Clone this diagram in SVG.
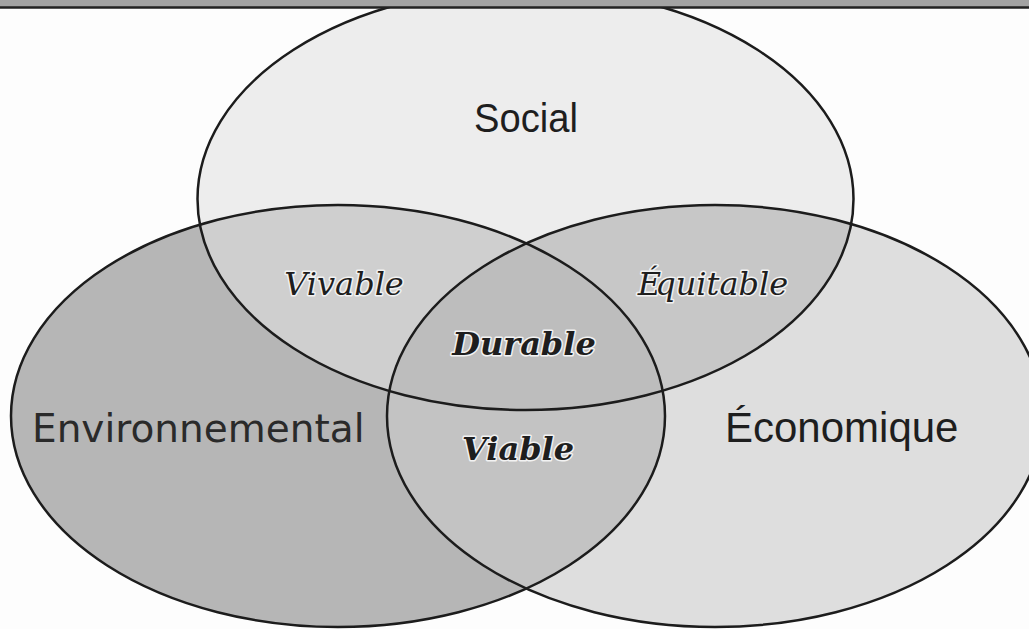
<svg xmlns="http://www.w3.org/2000/svg" width="1029" height="629" viewBox="0 0 1029 629">
<style>
.outline{fill:none;stroke:#1c1c1c;stroke-width:2.5}
.lbl{font-family:"Liberation Sans",Arial,sans-serif;fill:#1e1e1e}
.lbl2{font-family:"DejaVu Sans",Verdana,sans-serif;fill:#2a2a2a}
.it{font-family:"DejaVu Serif","Liberation Serif",serif;font-style:italic;font-size:32px;fill:#1e1e1e;text-anchor:middle;stroke:#f2f2f2;stroke-width:3;paint-order:stroke;stroke-linejoin:round}
.bi{font-weight:bold}
</style>
<defs>
<ellipse id="eS" cx="525.5" cy="199" rx="328" ry="211"/>
<ellipse id="eE" cx="338" cy="416" rx="327" ry="211"/>
<ellipse id="eC" cx="715" cy="416" rx="328" ry="211"/>
<clipPath id="cS"><use href="#eS"/></clipPath>
<clipPath id="cE"><use href="#eE"/></clipPath>
</defs>
<rect width="1029" height="629" fill="#fdfdfd"/>
<g id="fills">
<use href="#eS" fill="#ededed"/>
<use href="#eE" fill="#b6b6b6"/>
<use href="#eC" fill="#dedede"/>
<g clip-path="url(#cS)">
<use href="#eE" fill="#cfcfcf"/>
<use href="#eC" fill="#c7c7c7"/>
</g>
<g clip-path="url(#cE)">
<use href="#eC" fill="#c3c3c3"/>
<g clip-path="url(#cS)"><use href="#eC" fill="#bdbdbd"/></g>
</g>
</g>
<g id="node-social">
<use href="#eS" class="outline"/>
<text class="lbl" x="526" y="132" font-size="40" text-anchor="middle" textLength="104" lengthAdjust="spacingAndGlyphs">Social</text>
</g>
<g id="node-environnemental">
<use href="#eE" class="outline"/>
<text class="lbl2" x="32" y="442" font-size="39">Environnemental</text>
</g>
<g id="node-economique">
<use href="#eC" class="outline"/>
<text class="lbl" x="725" y="442" font-size="42">Économique</text>
</g>
<g id="node-vivable"><text class="it" x="344" y="295">Vivable</text></g>
<g id="node-equitable"><text class="it" x="713" y="295" dx="0 -6">Équitable</text></g>
<g id="node-durable"><text class="it bi" x="524" y="355">Durable</text></g>
<g id="node-viable"><text class="it bi" x="518" y="460">Viable</text></g>
<g id="topbar">
<rect x="0" y="0" width="1029" height="7" fill="#a3a3a3"/>
<line x1="0" y1="7.5" x2="1029" y2="7.5" stroke="#222" stroke-width="2.5"/>
</g>
</svg>
